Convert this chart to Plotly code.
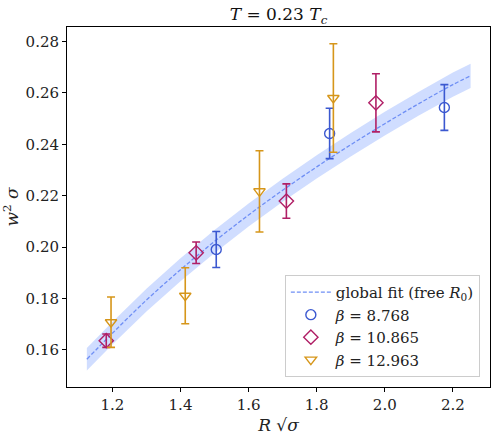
import plotly.graph_objects as go

# ---- data ----
fit_x = [1.125, 1.2, 1.3, 1.4, 1.5, 1.6, 1.7, 1.8, 1.9, 2.0, 2.1, 2.2, 2.252]
fit_y = [0.1564, 0.1665, 0.1794, 0.1912, 0.2022, 0.2125, 0.2221, 0.2312, 0.2398, 0.2480, 0.2558, 0.2632, 0.2666]
fit_err = [0.0044, 0.0044, 0.0044, 0.0045, 0.0045, 0.0045, 0.0045, 0.0045, 0.0046, 0.0046, 0.0046, 0.0047, 0.0047]

b1_x = [1.505, 1.838, 2.175]
b1_y = [0.1991, 0.2442, 0.2543]
b1_e = [0.0070, 0.0098, 0.0089]

b2_x = [1.182, 1.446, 1.711, 1.974]
b2_y = [0.1636, 0.1978, 0.2179, 0.2561]
b2_e = [0.0026, 0.0042, 0.0067, 0.0113]

b3_x = [1.196, 1.414, 1.632, 1.849]
b3_y = [0.1708, 0.1811, 0.2217, 0.2580]
b3_e = [0.0098, 0.0109, 0.0158, 0.0211]

x_ticks = [1.2, 1.4, 1.6, 1.8, 2.0, 2.2]
y_ticks = [0.16, 0.18, 0.20, 0.22, 0.24, 0.26, 0.28]

labels = ["<i>β</i> = 8.768", "<i>β</i> = 10.865", "<i>β</i> = 12.963"]
fit_label = "global fit (free <i>R</i><sub>0</sub>)"

# ---- styling ----
FONT = "DejaVu Serif"
C_BLUE = "#3b58d0"
C_PURP = "#b01f66"
C_ORNG = "#d6961a"
C_FIT = "#6f8ff5"
C_BAND = "rgba(150,180,255,0.45)"

fig = go.Figure()

upper = [y + e for y, e in zip(fit_y, fit_err)]
lower = [y - e for y, e in zip(fit_y, fit_err)]
fig.add_trace(go.Scatter(x=fit_x, y=upper, mode="lines", line=dict(width=0),
                         showlegend=False, hoverinfo="skip"))
fig.add_trace(go.Scatter(x=fit_x, y=lower, mode="lines", line=dict(width=0),
                         fill="tonexty", fillcolor=C_BAND,
                         showlegend=False, hoverinfo="skip"))
fig.add_trace(go.Scatter(x=fit_x, y=fit_y, mode="lines", name=fit_label,
                         line=dict(color=C_FIT, width=1.3, dash="4px,2px", shape="spline")))

series = [
    (b1_x, b1_y, b1_e, C_BLUE, "circle-open", 10),
    (b2_x, b2_y, b2_e, C_PURP, "diamond-open", 11),
    (b3_x, b3_y, b3_e, C_ORNG, "triangle-down-open", 10),
]
for (xs, ys, es, col, sym, sz), lab in zip(series, labels):
    fig.add_trace(go.Scatter(
        x=xs, y=ys, mode="markers", name=lab,
        marker=dict(symbol=sym, size=sz, color=col, line=dict(color=col, width=1.4)),
        error_y=dict(type="data", array=es, visible=True, color=col,
                     thickness=1.6, width=4),
    ))

fig.update_layout(
    width=497, height=440,
    margin=dict(l=67, r=7, t=27, b=53, autoexpand=False),
    paper_bgcolor="white", plot_bgcolor="white",
    font=dict(family=FONT, size=15, color="#222222"),
    title=dict(text="<i>T</i> = 0.23 <i>T</i><sub><i>c</i></sub>",
               x=(67 + 490) / 2 / 497, xanchor="center",
               y=1 - 14 / 440, yanchor="middle",
               font=dict(family=FONT, size=17, color="#111111")),
    showlegend=True,
    legend=dict(x=0.976, xanchor="right", y=0.028, yanchor="bottom",
                traceorder="normal",
                bgcolor="rgba(255,255,255,0.85)", bordercolor="#cccccc",
                borderwidth=1, font=dict(family=FONT, size=15, color="#222222"),
                itemwidth=40, tracegroupgap=0),
)
fig.update_xaxes(range=[1.0667, 2.309], tickvals=x_ticks, ticktext=[f"{v:.1f}" for v in x_ticks],
                 automargin=False,
                 showgrid=False, zeroline=False, showline=True, linecolor="black",
                 linewidth=1, mirror=True, ticks="outside", ticklen=4, tickcolor="black",
                 tickfont=dict(family=FONT, size=15),
                 title=dict(text="<i>R</i> √<i>σ</i>", font=dict(family=FONT, size=17), standoff=6))
fig.update_yaxes(range=[0.1456, 0.2856], tickvals=y_ticks, ticktext=[f"{v:.2f}" for v in y_ticks],
                 automargin=False,
                 showgrid=False, zeroline=False, showline=True, linecolor="black",
                 linewidth=1, mirror=True, ticks="outside", ticklen=4, tickcolor="black",
                 tickfont=dict(family=FONT, size=15),
                 title=dict(text="<i>w</i><sup>2</sup> <i>σ</i>", font=dict(family=FONT, size=17), standoff=8))

fig.write_html("out.html")
